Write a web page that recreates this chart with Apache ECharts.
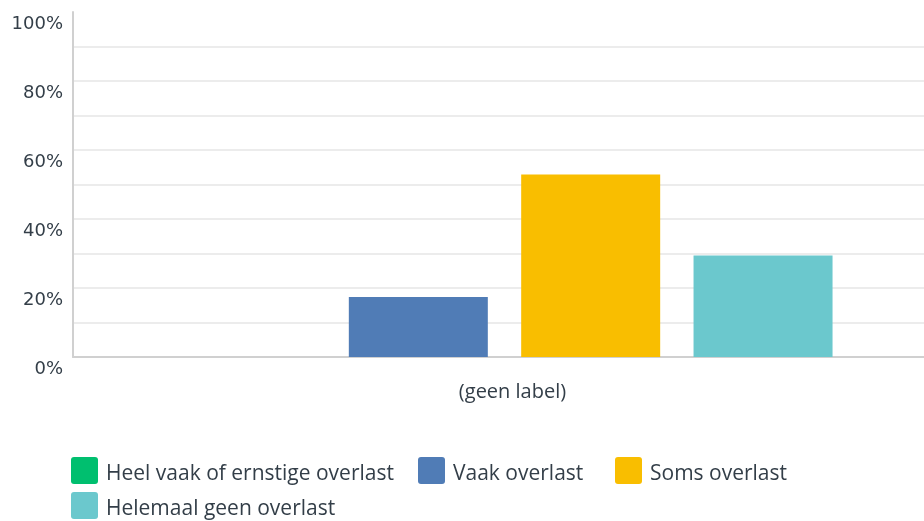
<!DOCTYPE html>
<html>
<head>
<meta charset="utf-8">
<script src="https://cdn.jsdelivr.net/npm/echarts@6/dist/echarts.min.js"></script>
<style>
html,body{margin:0;padding:0;background:#fff;}
#main{width:924px;height:521px;}
</style>
</head>
<body>
<div id="main"></div>
<script>
var categories = ['(geen label)'];
var seriesNames = ['Heel vaak of ernstige overlast', 'Vaak overlast', 'Soms overlast', 'Helemaal geen overlast'];
var seriesValues = [[0], [17.4], [52.9], [29.4]];
var seriesColors = ['#00bf6f', '#507cb6', '#f9be00', '#6bc8cd'];
var yTicks = [0, 20, 40, 60, 80, 100];

var FONT = 'Open Sans';
var chart = echarts.init(document.getElementById('main'));
var series = seriesNames.map(function (n, i) {
  return {
    name: n,
    type: 'bar',
    data: seriesValues[i],
    barWidth: 139,
    barGap: '24%',
    itemStyle: { color: seriesColors[i] },
    emphasis: { disabled: true }
  };
});
var ICON = 'path://M3,0 H24 A3,3 0 0 1 27,3 V24 A3,3 0 0 1 24,27 H3 A3,3 0 0 1 0,24 V3 A3,3 0 0 1 3,0 Z';
var legendPos = [[71, 457], [418, 457], [615, 457], [71, 492]];
var legends = seriesNames.map(function (n, i) {
  return {
    data: [n],
    left: legendPos[i][0], top: legendPos[i][1], padding: 0,
    orient: 'horizontal',
    itemWidth: 27, itemHeight: 27,
    icon: ICON,
    formatter: function (name) { return '{t|' + name + '}'; },
    textStyle: {
      fontFamily: FONT, fontSize: 21, color: '#333e48',
      rich: { t: { fontFamily: FONT, fontSize: 21, color: '#333e48', padding: [7, 0, 0, 3] } }
    },
    selectedMode: false
  };
});
chart.setOption({
  animation: false,
  grid: { left: 73, right: -12, top: 12, bottom: 164, containLabel: false, outerBoundsMode: 'none' },
  legend: legends,
  xAxis: {
    type: 'category',
    data: categories,
    axisLine: { lineStyle: { color: '#d0d0d0', width: 2 } },
    axisTick: { show: false },
    axisLabel: { fontFamily: FONT, fontSize: 20, color: '#333e48', margin: 25, padding: [0, 0, 0, 16] }
  },
  yAxis: {
    type: 'value',
    min: 0, max: 100, interval: 10,
    axisLine: { show: true, lineStyle: { color: '#d0d0d0', width: 2 } },
    axisTick: { show: false },
    splitLine: { showMaxLine: false, lineStyle: { color: '#ececec', width: 2 } },
    axisLabel: {
      fontFamily: 'DejaVu Sans', fontSize: 18, color: '#333e48', margin: 10,
      verticalAlign: 'top', padding: [3, 0, 0, 0],
      formatter: function (v) { return yTicks.indexOf(v) >= 0 ? v + '%' : ''; }
    }
  },
  series: series
});
</script>
</body>
</html>
